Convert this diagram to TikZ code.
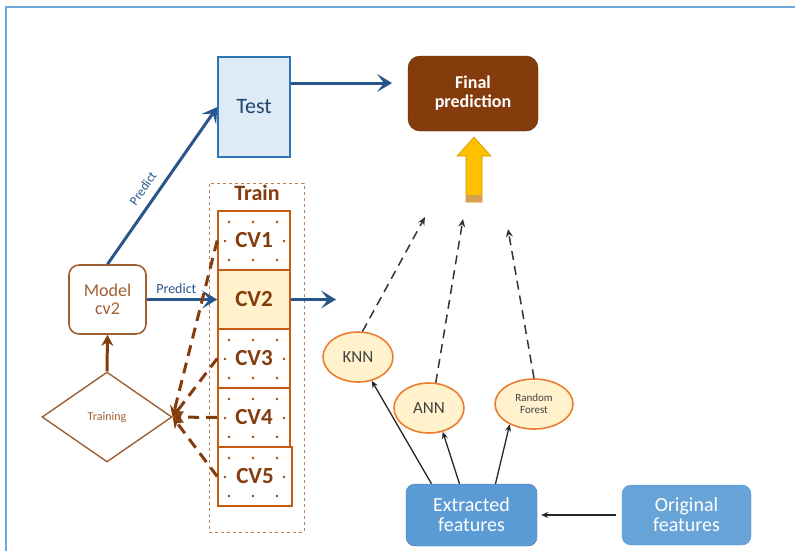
\documentclass[tikz,border=0pt]{standalone}
\usepackage{fontspec}
\setmainfont{Carlito}
\usetikzlibrary{arrows.meta,shapes.geometric}

\definecolor{frameblue}{RGB}{111,168,220}
\definecolor{arrowblue}{RGB}{40,86,138}
\definecolor{testfill}{RGB}{222,235,247}
\definecolor{testline}{RGB}{46,117,182}
\definecolor{brown}{RGB}{132,60,12}
\definecolor{lightbrown}{RGB}{160,95,50}
\definecolor{cvline}{RGB}{197,90,17}
\definecolor{cvfill}{RGB}{255,242,204}
\definecolor{ovalline}{RGB}{237,125,49}
\definecolor{featfill}{RGB}{91,155,213}
\definecolor{featline}{RGB}{65,113,156}
\definecolor{gold}{RGB}{255,192,0}
\definecolor{tan}{RGB}{214,160,80}
\definecolor{trainline}{RGB}{190,130,90}
\definecolor{darktext}{RGB}{64,64,64}

\newcommand{\fs}[1]{\fontsize{#1}{#1}\selectfont}

\begin{document}
\begin{tikzpicture}[x=1pt, y=-1pt,
    bluearrow/.style={arrowblue, line width=3pt, -{Stealth[length=15pt, width=18pt, inset=7pt]}},
    cvbox/.style={draw=cvline, line width=1.6pt, minimum width=72pt, minimum height=59pt, inner sep=0pt,
      text=brown, font=\fs{23}\bfseries},
    oval/.style={ellipse, draw=ovalline, line width=1.6pt, fill=cvfill, inner sep=0pt, minimum height=50pt, text=darktext},
    feat/.style={draw=featline, fill=featfill, rounded corners=9pt, text=white, align=center, font=\fs{20},
      minimum width=130pt, minimum height=61pt}]

    \useasboundingbox (0,0) rectangle (795,550);

    % 外枠
    \draw[frameblue, line width=2pt] (6,551) -- (6,7) -- (796,7);

    % Test と Final prediction
    \node[draw=testline, fill=testfill, line width=1.4pt, minimum width=72pt, minimum height=100pt,
      text=arrowblue!80!black, font=\fs{22}] (test) at (254,107) {Test};
    \node[fill=brown, draw=brown!70!black, rounded corners=12pt, minimum width=130pt, minimum height=75pt,
      text=white, align=center, font=\fs{18}\bfseries] (final) at (473,93.5) {Final\\[1pt]prediction};
    \coordinate (testout) at (392,83);
    \draw[bluearrow] (testout -| test.east) -- (testout);

    % 黄色の矢印
    \draw[gold!80!black, fill=gold, line width=0.6pt] (474,137) -- (491,156) -- (482,156) -- (482,202)
      -- (466,202) -- (466,156) -- (457,156) -- cycle;
    \fill[tan] (466.3,195) rectangle (481.7,201.7);

    % Train の枠と CV1--CV5
    \node[draw=trainline, dashed, line width=0.8pt, minimum width=95pt, minimum height=349pt] (trainbox) at (256.5,357.5) {};
    \node[text=brown, font=\fs{22}\bfseries] (trainlbl) at (257,193) {Train};
    \foreach \i in {1,3,4,5} {
      \foreach \dx in {-25,-1,23} {
        \fill[cvline!80!black] (254+\dx, 211+59*\i-59+11) circle (1.3pt);
        \fill[cvline!80!black] (254+\dx, 211+59*\i-59+49) circle (1.3pt);
      }
      \fill[cvline!80!black] (225, 211+59*\i-59+30) circle (1.3pt);
      \fill[cvline!80!black] (284, 211+59*\i-59+30) circle (1.3pt);
    }
    \node[cvbox] (cv1) at (254,240.5) {CV1};
    \node[cvbox, fill=cvfill] (cv2) at (254,299.5) {CV2};
    \node[cvbox] (cv3) at (254,358.5) {CV3};
    \node[cvbox] (cv4) at (254,417.5) {CV4};
    \node[cvbox, minimum width=74pt] (cv5) at (255,476.5) {CV5};

    % Model cv2 と Training
    \node[draw=lightbrown, line width=1.6pt, rounded corners=10pt, minimum width=77pt, minimum height=69pt,
      text=lightbrown, align=center, font=\fs{18}] (model) at (107.5,299.5) {Model\\cv2};
    \node[diamond, draw=lightbrown, line width=1.4pt, minimum width=130pt, minimum height=90pt, aspect=1.44,
      inner sep=0pt, text=lightbrown, font=\fs{12}] (train) at (107,417) {Training};
    \draw[brown, line width=3pt, -{Stealth[length=11pt, width=12pt]}] (train.north) -- (model.south);

    \draw[bluearrow] (model.north) -- (test.west)
      node[pos=0.43, sloped, above=5pt, text=arrowblue, font=\fs{13}] {Predict};
    \draw[bluearrow] (model.east) -- (cv2.west)
      node[pos=0.42, above=1pt, text=arrowblue, font=\fs{14}] {Predict};
    \coordinate (cvout) at (336,299.5);
    \draw[bluearrow] (cv2.east) -- (cvout);

    % CV からの破線
    \foreach \k in {1,3,4,5}
      \draw[brown, line width=3pt, dash pattern=on 11pt off 7pt, -{Stealth[length=11pt, width=11pt]}]
        (cv\k.west) -- (train.east);

    % 分類器
    \node[oval, minimum width=70pt, font=\fs{17}] (knn) at (358,357) {KNN};
    \node[oval, minimum width=70pt, font=\fs{17}] (ann) at (429,408) {ANN};
    \node[oval, minimum width=78pt, align=center, font=\fs{11}] (rf) at (534,404) {Random\\[1pt]Forest};

    \coordinate (knnup) at (425,217);
    \coordinate (annup) at (463,219);
    \coordinate (rfup) at (508,229);
    \draw[black!80, line width=1.5pt, dash pattern=on 9pt off 6pt, -{Stealth[length=8pt, width=7pt]}] (knn.80) -- (knnup);
    \draw[black!80, line width=1.5pt, dash pattern=on 9pt off 6pt, -{Stealth[length=8pt, width=7pt]}] (ann.75) -- (annup);
    \draw[black!80, line width=1.5pt, dash pattern=on 9pt off 6pt, -{Stealth[length=8pt, width=7pt]}] (rf.north) -- (rfup);

    % 特徴量
    \node[feat, minimum width=131pt, minimum height=62pt] (extracted) at (471.5,515) {Extracted\\features};
    \node[feat, minimum width=129pt, minimum height=60pt, fill=featfill!92!white, draw=featfill] (original) at (686.5,515) {Original\\features};

    \draw[black!85, line width=1.3pt, -{Stealth[length=7pt, width=6pt]}, shorten <=6pt, shorten >=4pt]
      (original.west) -- (extracted.east);
    \draw[black!85, line width=1.3pt, -{Stealth[length=7pt, width=6pt]}] ([xshift=-40pt]extracted.north) -- (knn.-60);
    \draw[black!85, line width=1.3pt, -{Stealth[length=7pt, width=6pt]}] ([xshift=-12pt]extracted.north) -- (ann.-60);
    \draw[black!85, line width=1.3pt, -{Stealth[length=7pt, width=6pt]}] ([xshift=24pt]extracted.north) -- (rf.-140);

  \end{tikzpicture}
\end{document}
